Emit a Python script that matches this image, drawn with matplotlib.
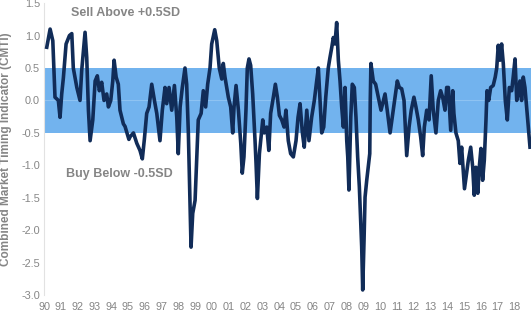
import matplotlib
matplotlib.use("Agg")
import matplotlib.pyplot as plt

# CMTI readings (decimal year, indicator value)
years = [
    1990.16, 1990.36, 1990.52, 1990.65, 1990.85, 1990.95, 1991.05, 1991.15, 1991.31, 1991.51,
    1991.65, 1991.74, 1991.95, 1992.14, 1992.24, 1992.44, 1992.54, 1992.64, 1992.74, 1992.90,
    1993.04, 1993.17, 1993.29, 1993.43, 1993.57, 1993.73, 1993.83, 1993.97, 1994.09, 1994.17,
    1994.29, 1994.42, 1994.52, 1994.72, 1994.82, 1995.05, 1995.12, 1995.32, 1995.52, 1995.71,
    1995.85, 1995.97, 1996.11, 1996.25, 1996.41, 1996.57, 1996.71, 1996.90, 1997.04, 1997.20,
    1997.30, 1997.44, 1997.60, 1997.76, 1997.90, 1997.99, 1998.10, 1998.23, 1998.39, 1998.49,
    1998.59, 1998.69, 1998.75, 1998.85, 1998.99, 1999.09, 1999.18, 1999.35, 1999.48, 1999.62,
    1999.74, 1999.88, 1999.98, 2000.16, 2000.28, 2000.43, 2000.58, 2000.67, 2000.77, 2000.97,
    2001.11, 2001.23, 2001.31, 2001.43, 2001.57, 2001.71, 2001.80, 2001.90, 2002.02, 2002.10,
    2002.20, 2002.30, 2002.42, 2002.56, 2002.62, 2002.70, 2002.82, 2002.92, 2003.02, 2003.11,
    2003.26, 2003.38, 2003.49, 2003.65, 2003.77, 2003.89, 2004.01, 2004.15, 2004.29, 2004.40,
    2004.54, 2004.68, 2004.84, 2005.00, 2005.12, 2005.24, 2005.38, 2005.49, 2005.64, 2005.77,
    2005.93, 2006.09, 2006.23, 2006.33, 2006.43, 2006.53, 2006.65, 2006.77, 2006.92, 2007.02,
    2007.13, 2007.22, 2007.32, 2007.42, 2007.52, 2007.62, 2007.72, 2007.82, 2007.92, 2008.02,
    2008.08, 2008.15, 2008.26, 2008.35, 2008.47, 2008.57, 2008.67, 2008.77, 2008.85, 2008.91,
    2008.97, 2009.05, 2009.11, 2009.21, 2009.30, 2009.39, 2009.42, 2009.46, 2009.60, 2009.74,
    2009.90, 2010.06, 2010.20, 2010.30, 2010.43, 2010.60, 2010.76, 2010.89, 2011.03, 2011.15,
    2011.29, 2011.43, 2011.59, 2011.73, 2011.86, 2012.02, 2012.14, 2012.28, 2012.42, 2012.54,
    2012.64, 2012.78, 2012.92, 2013.05, 2013.17, 2013.33, 2013.47, 2013.61, 2013.73, 2013.87,
    2013.97, 2014.07, 2014.21, 2014.33, 2014.40, 2014.52, 2014.66, 2014.76, 2014.86, 2015.03,
    2015.26, 2015.40, 2015.52, 2015.61, 2015.71, 2015.82, 2015.91, 2016.01, 2016.11, 2016.21,
    2016.31, 2016.37, 2016.47, 2016.59, 2016.74, 2016.86, 2016.95, 2017.04, 2017.14, 2017.24,
    2017.34, 2017.46, 2017.58, 2017.70, 2017.84, 2017.93, 2018.04, 2018.14, 2018.23, 2018.33,
    2018.43, 2018.53, 2018.63, 2018.73, 2018.83, 2018.93,
]
cmti = [
    0.82, 1.10, 0.92, 0.05, 0.00, -0.26, 0.10, 0.35, 0.87, 1.00,
    1.03, 0.50, 0.20, 0.00, 0.46, 1.05, 0.66, -0.15, -0.62, -0.30,
    0.30, 0.38, 0.15, 0.28, 0.00, 0.10, -0.10, 0.00, 0.30, 0.62,
    0.36, 0.25, -0.15, -0.36, -0.40, -0.60, -0.56, -0.50, -0.66, -0.77,
    -0.90, -0.60, -0.20, -0.10, 0.25, 0.00, -0.20, -0.62, -0.15, 0.20,
    -0.05, 0.20, -0.15, 0.23, -0.26, -0.82, -0.10, 0.20, 0.50, 0.25,
    -0.50, -1.64, -2.26, -1.74, -1.54, -0.87, -0.30, -0.20, 0.15, -0.10,
    0.25, 0.50, 0.87, 1.09, 0.92, 0.50, 0.33, 0.57, 0.36, 0.05,
    -0.10, -0.50, -0.10, 0.23, -0.15, -0.66, -1.12, -0.87, -0.15, 0.50,
    0.64, 0.54, 0.10, -0.62, -0.97, -1.51, -0.82, -0.56, -0.30, -0.50,
    -0.41, -0.77, -0.20, 0.05, 0.25, 0.05, -0.23, -0.30, -0.41, -0.15,
    -0.62, -0.82, -0.87, -0.62, -0.26, -0.05, -0.50, -0.72, -0.15, -0.62,
    -0.26, 0.00, 0.30, 0.50, 0.00, -0.50, -0.41, 0.05, 0.50, 0.66,
    0.82, 0.97, 0.87, 1.20, 0.62, 0.30, -0.10, -0.41, 0.20, -0.62,
    -0.87, -1.38, -0.26, 0.25, 0.20, -0.26, -0.87, -1.33, -1.85, -2.26,
    -2.92, -2.15, -1.49, -1.23, -1.03, -0.82, 0.00, 0.57, 0.30, 0.25,
    0.05, -0.15, 0.00, 0.10, -0.15, -0.50, -0.20, 0.05, 0.30, 0.20,
    0.18, 0.00, -0.85, -0.41, -0.15, 0.05, -0.10, -0.30, -0.56, -0.85,
    -0.41, -0.15, -0.30, 0.38, -0.15, -0.50, 0.00, 0.15, 0.05, -0.15,
    0.20, 0.20, -0.46, 0.15, -0.20, -0.50, -0.62, -0.97, -0.72, -1.36,
    -0.92, -0.72, -1.03, -1.46, -1.03, -1.43, -1.03, -0.74, -1.23, -0.92,
    -0.30, 0.15, 0.00, 0.20, 0.23, 0.36, 0.50, 0.85, 0.62, 0.87,
    0.57, 0.00, -0.30, 0.20, 0.15, 0.36, 0.64, 0.00, 0.10, 0.30,
    0.00, 0.36, 0.20, -0.10, -0.41, -0.72,
]

band_low, band_high = -0.5, 0.5
tick_years = list(range(1990, 2019))
tick_labels = ["%02d" % (y % 100) for y in tick_years]
y_ticks = [1.5, 1.0, 0.5, 0.0, -0.5, -1.0, -1.5, -2.0, -2.5, -3.0]

plt.rcParams['font.family'] = ['Liberation Sans', 'DejaVu Sans']
gray = '#858585'

fig = plt.figure(figsize=(5.31, 3.11), dpi=100)
ax = fig.add_axes([0.083, 0.051, 0.917, 0.939])

# signal band and zero line
ax.axhspan(band_low, band_high, color='#72b3ee', lw=0, zorder=1)
ax.axhline(0, color='#8ec3f2', lw=0.8, zorder=1.5)

ax.plot(years, cmti, color='#112c58', lw=2.6, zorder=3, solid_joinstyle='round')

ax.text(1994.85, 1.35, 'Sell Above +0.5SD', ha='center', va='center',
        fontsize=9, fontweight='bold', color=gray)
ax.text(1994.5, -1.14, 'Buy Below -0.5SD', ha='center', va='center',
        fontsize=9, fontweight='bold', color=gray)

ax.set_xlim(1990, 2018.99)
ax.set_ylim(-3.0, 1.5)
ax.set_xticks(tick_years)
ax.set_xticklabels(tick_labels)
ax.set_yticks(y_ticks)
ax.set_yticklabels(["%.1f" % v for v in y_ticks])
ax.tick_params(axis='both', length=0, labelsize=7.8, colors=gray, pad=3)
ax.tick_params(axis='x', pad=5)

for side in ['top', 'right', 'bottom']:
    ax.spines[side].set_visible(False)
ax.spines['left'].set_color('#e2e2e2')
ax.spines['left'].set_linewidth(0.8)

fig.text(0.012, 0.52, 'Combined Market Timing Indicator (CMTI)', rotation=90,
         ha='center', va='center', fontsize=8.5, fontweight='bold', color=gray)

fig.savefig('out.png', dpi=100)
